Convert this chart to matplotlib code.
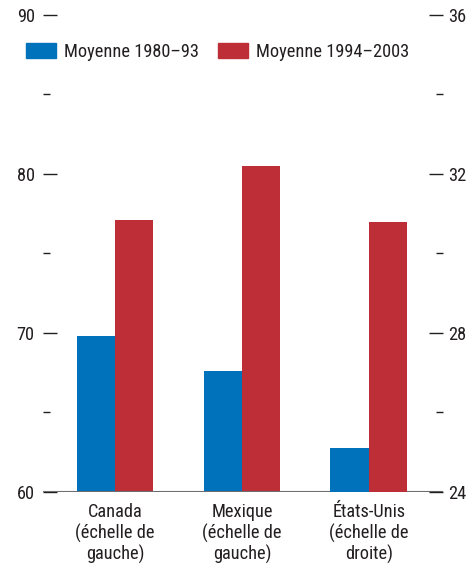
import numpy as np
import matplotlib
matplotlib.use("Agg")
import matplotlib.pyplot as plt
from matplotlib.patches import Patch

plt.rcParams['font.family'] = ['Roboto Condensed', 'DejaVu Sans']
plt.rcParams['font.stretch'] = 'condensed'

categories = ["Canada\n(échelle de\ngauche)", "Mexique\n(échelle de\ngauche)", "États-Unis\n(échelle de\ndroite)"]
series_names = ["Moyenne 1980–93", "Moyenne 1994–2003"]
# Canada and Mexique on the left scale, États-Unis on the right scale
avg_1980_93 = [69.8, 67.6, 25.1]
avg_1994_2003 = [77.1, 80.5, 30.8]
left_ticks = [60, 70, 80, 90]
right_ticks = [24, 28, 32, 36]

blue = "#0072bb"
red = "#be2e37"
txt = "#231f20"
fs = 13.2

fig = plt.figure(figsize=(4.74, 5.65), dpi=100)
ax = fig.add_axes([0.0907, 0.1292, 0.8439, 0.8443])
ax2 = ax.twinx()

x = np.arange(len(categories))
w = 0.303
ax.bar(x[:2] - w / 2, avg_1980_93[:2], w, color=blue)
ax.bar(x[:2] + w / 2, avg_1994_2003[:2], w, color=red)
ax2.bar(x[2:] - w / 2, avg_1980_93[2:], w, color=blue)
ax2.bar(x[2:] + w / 2, avg_1994_2003[2:], w, color=red)

ax.set_ylim(60, 90)
ax2.set_ylim(24, 36)
ax.set_xlim(-0.567, 2.583)

for a in (ax, ax2):
    for s in a.spines.values():
        s.set_visible(False)
ax.axhline(60, color="#6d6e71", lw=1.5, zorder=5)

ax.set_yticks(left_ticks)
ax.set_yticks([65, 75, 85], minor=True)
ax2.set_yticks(right_ticks)
ax2.set_yticks([26, 30, 34], minor=True)
for a in (ax, ax2):
    a.tick_params(axis="y", which="major", direction="in", length=10, width=1,
                  color=txt, labelsize=fs, labelcolor=txt)
    a.tick_params(axis="y", which="minor", direction="in", length=5, width=1, color=txt)
ax.tick_params(axis="y", pad=6)
ax2.tick_params(axis="y", pad=4)

ax.set_xticks(x)
ax.set_xticklabels(categories, fontsize=fs, color=txt, linespacing=1.15)
ax.tick_params(axis="x", length=0, pad=8)

handles = [Patch(color=blue), Patch(color=red)]
fig.legend(handles, series_names, loc="center left", bbox_to_anchor=(0.055, 0.908),
           ncol=2, frameon=False, fontsize=fs, handlelength=1.64, handleheight=0.82,
           handletextpad=0.44, columnspacing=1.0, labelcolor=txt, borderaxespad=0, borderpad=0)

fig.savefig("out.png", dpi=100)
